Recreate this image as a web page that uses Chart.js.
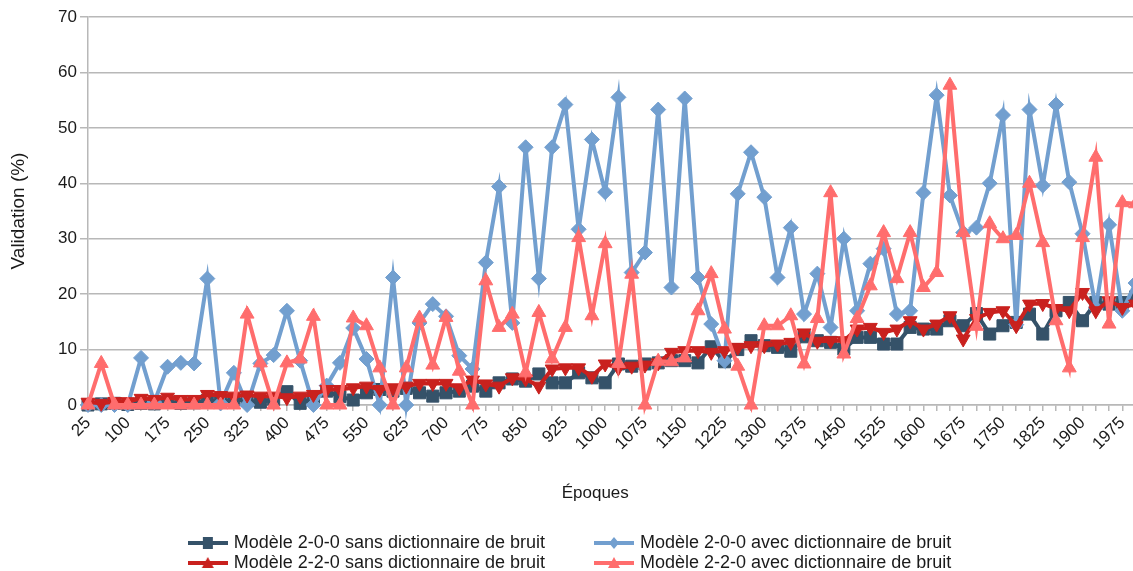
<!DOCTYPE html>
<html><head><meta charset="utf-8">
<script src="https://cdn.jsdelivr.net/npm/chart.js@4.4.1/dist/chart.umd.min.js"></script>
<style>html,body{margin:0;padding:0;overflow:hidden;background:#fff}#wrap{width:1152px;height:582px}</style>
</head><body><div id="wrap"><canvas id="c" width="1152" height="582"></canvas></div>
<script>
const epochs = [25,50,75,100,125,150,175,200,225,250,275,300,325,350,375,400,425,450,475,500,525,550,575,600,625,650,675,700,725,750,775,800,825,850,875,900,925,950,975,1000,1025,1050,1075,1100,1125,1150,1175,1200,1225,1250,1275,1300,1325,1350,1375,1400,1425,1450,1475,1500,1525,1550,1575,1600,1625,1650,1675,1700,1725,1750,1775,1800,1825,1850,1875,1900,1925,1950,1975,2000];
const tickLabels = ['25','100','175','250','325','400','475','550','625','700','775','850','925','1000','1075','1150','1225','1300','1375','1450','1525','1600','1675','1750','1825','1900','1975'];
const yTicks = [0,10,20,30,40,50,60,70];

const sans200 = [0,0.2,0.3,0.1,0.3,0.2,0.5,0.3,0.4,0.8,0.6,1.0,0.8,0.5,1.0,2.4,0.3,1.2,2.5,1.5,0.9,2.2,2.8,2.5,3.0,2.2,1.6,2.2,2.5,3.4,2.5,4.0,4.7,4.3,5.6,4.0,4.0,5.8,4.9,4.0,7.4,7.0,7.4,7.6,8.0,8.0,7.6,10.5,7.8,10.0,11.6,10.7,10.4,9.7,12.3,11.6,11.3,10.1,12.2,12.2,11.0,11.0,14.0,13.7,13.7,15.2,14.3,16.5,12.8,14.3,14.9,16.4,12.8,17.0,18.5,15.2,18.5,18.2,18.5,19.5];
const avec200 = [0,0,0,0,8.5,0.5,6.9,7.6,7.5,22.8,0.3,5.8,0,7.5,9,17,8,0,3.5,7.6,13.9,8.3,0,23,0,14.8,18.2,16,8.9,6.5,25.7,39.4,14.8,46.5,22.8,46.5,54.2,31.7,47.9,38.4,55.5,23.9,27.5,53.3,21.2,55.3,23,14.6,8,38.1,45.6,37.5,23,32,16.4,23.7,14,30,17,25.5,28.2,16.4,17,38.3,55.9,37.8,31.1,32,40,52.3,14.5,53.3,39.6,54.2,40.2,30.9,17.5,32.5,17,22];
const sans220 = [0.5,0.3,0.6,0.6,1.2,1.0,1.4,1.0,1.0,1.9,1.7,1.6,1.8,1.6,1.6,1.3,1.6,1.9,2.8,2.8,3.1,3.4,2.8,3.1,3.4,3.9,3.9,3.9,3.1,4.5,3.8,3.4,4.9,4.7,3.4,6.5,6.7,6.7,5.2,7.4,6.7,7.0,7.2,7.6,9.5,9.8,9.8,9.5,9.8,10.4,10.7,10.7,11,11.3,13,11.5,11.6,11.6,13.7,14,13.1,13.7,15.2,13.7,14.6,16.1,11.9,15.6,16.7,17,14.3,18.2,18.3,17.4,17,20.3,17,18.8,17.6,18.2];
const avec220 = [0,7.5,0,0,0,0,0,0,0,0,0,0,16.4,7.6,0,7.6,8.3,16,0,0,15.7,14.3,6.7,0,6.7,15.7,7.2,15.8,6.1,0,22.4,14,16.4,5.8,16.7,8.3,14,30.2,16.1,29.1,7.5,23.6,0,7.9,7.8,8.5,17,23.7,13.7,7,0,14.3,14.3,16.1,7.4,15.6,38.3,9.2,15.6,21.5,31.1,22.8,31.1,21.2,23.9,57.7,31.1,14.2,32.7,30,30.6,40,29.3,15.2,6.7,30.2,44.7,14.6,36.5,36.3];

const names = ['Modèle 2-0-0 sans dictionnaire de bruit','Modèle 2-0-0 avec dictionnaire de bruit','Modèle 2-2-0 sans dictionnaire de bruit','Modèle 2-2-0 avec dictionnaire de bruit'];
const colors = ['#355269','#729fcf','#c9211e','#ff6d6d'];

function icon(color, style){
  const c=document.createElement('canvas'); c.width=40; c.height=16;
  const g=c.getContext('2d');
  g.strokeStyle=color; g.lineWidth=4; g.beginPath(); g.moveTo(0,8); g.lineTo(40,8); g.stroke();
  g.fillStyle=color; g.beginPath();
  if(style==='rect'){ g.rect(15,2,10,12);}
  else if(style==='diamond'){ g.moveTo(20,2);g.lineTo(25,8);g.lineTo(20,14);g.lineTo(15,8);g.closePath();}
  else if(style==='down'){ g.moveTo(14,3);g.lineTo(26,3);g.lineTo(20,14);g.closePath();}
  else { g.moveTo(20,2);g.lineTo(26,13);g.lineTo(14,13);g.closePath();}
  g.fill(); return c;
}
const icons=[icon(colors[0],'rect'),icon(colors[1],'diamond'),icon(colors[2],'down'),icon(colors[3],'up')];
const FONT='"Liberation Sans", Arial, sans-serif';
const TXT='#1a1a1a';
const GRID='#b8b8b8';
const NB='\u00a0';

function ds(i,data,style,radius,rot,order){
  return {label:names[i],data:data,borderColor:colors[i],backgroundColor:colors[i],
    pointBackgroundColor:colors[i],pointBorderColor:colors[i],pointStyle:style,pointRotation:rot,
    pointRadius:radius,pointHoverRadius:radius,pointBorderWidth:1,borderWidth:4,tension:0,order:order,clip:false};
}

new Chart(document.getElementById('c'),{
  type:'line',
  data:{labels:epochs.map(String),datasets:[
    ds(0,sans200,'rect',8.5,0,3),
    ds(1,avec200,'rectRot',7.5,0,2),
    ds(2,sans220,'triangle',8,180,1),
    ds(3,avec220,'triangle',8,0,0)
  ]},
  options:{
    responsive:false,animation:false,
    layout:{padding:{top:17,right:0,bottom:0,left:0}},
    plugins:{
      tooltip:{enabled:false},
      legend:{position:'bottom',align:'center',
        labels:{usePointStyle:true,pointStyleWidth:34,boxHeight:17,padding:2,color:TXT,font:{family:FONT,size:18},
          sort:(a,b)=>a.datasetIndex-b.datasetIndex,
          generateLabels:(chart)=>{
            const items=Chart.defaults.plugins.legend.labels.generateLabels(chart);
            items.forEach(it=>{it.pointStyle=icons[it.datasetIndex];
              it.text=it.text+((it.datasetIndex===0||it.datasetIndex===2)?NB.repeat(10):NB.repeat(2));});
            return items;
          }}
      }
    },
    scales:{
      x:{type:'category',offset:false,
        grid:{drawOnChartArea:false,drawTicks:true,tickLength:6,color:GRID,lineWidth:1.5},
        border:{display:true,color:GRID,width:1.5},
        ticks:{autoSkip:false,maxRotation:45,minRotation:45,padding:2,color:TXT,font:{family:FONT,size:17},
          callback:function(v,i){const l=this.getLabelForValue(v);return tickLabels.includes(l)?l:'';}},
        title:{display:true,text:'Époques'+NB.repeat(7),color:TXT,font:{family:FONT,size:17},padding:{top:0,bottom:28}},
        afterFit:(a)=>{a.height=127;}
      },
      y:{min:0,max:70,
        grid:{color:GRID,lineWidth:1.5,tickLength:8},
        border:{display:true,color:GRID,width:1.5},
        ticks:{stepSize:10,padding:3,color:TXT,font:{family:FONT,size:17},
          callback:(v)=>yTicks.includes(v)?String(v):''},
        title:{display:true,text:'Validation (%)',color:TXT,font:{family:FONT,size:19},padding:{top:7,bottom:0}},
        afterFit:(a)=>{a.width=88;}
      }
    }
  }
});
</script></body></html>
